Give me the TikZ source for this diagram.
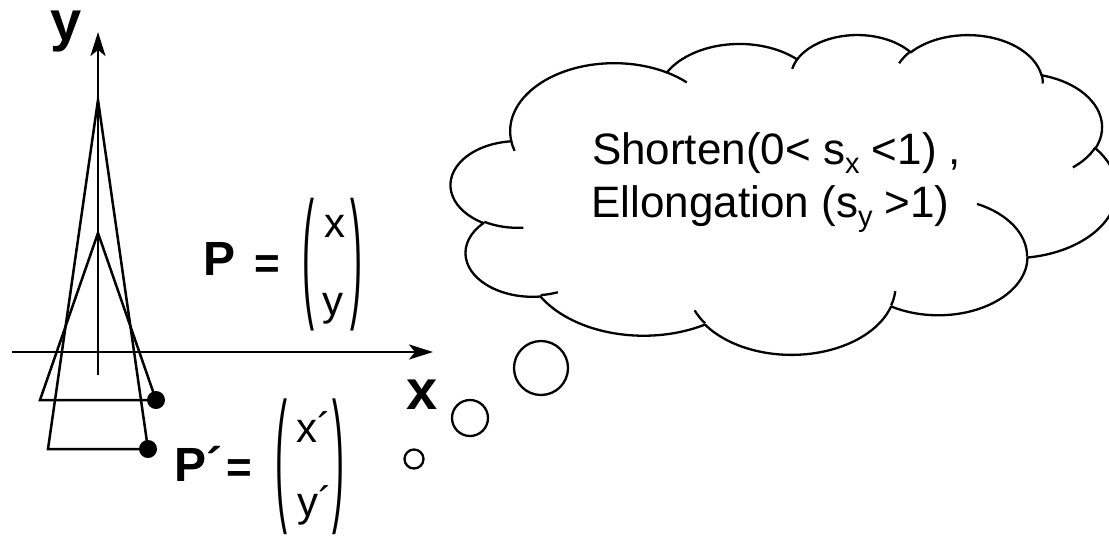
\documentclass[tikz,border=0pt]{standalone}
\usepackage{fontspec}
\setmainfont{Liberation Sans}
\usetikzlibrary{arrows.meta}

% lowered subscript used in the cloud text
\newcommand\lowsub[1]{\raisebox{-9pt}{\fontsize{29}{29}\selectfont #1}}

\tikzset{
  % elliptical arc given by radii and by true (visual) start angle and sweep, in degrees
  ooarc/.code args={#1/#2/#3/#4}{%
    \pgfmathsetmacro\ooS{atan2((#1)*sin(#3),(#2)*cos(#3))}%
    \pgfmathsetmacro\ooE{atan2((#1)*sin((#3)+(#4)),(#2)*cos((#3)+(#4)))}%
    \pgfmathsetmacro\ooD{mod(\ooE-\ooS+720,360)}%
    \edef\ooNext{\noexpand\pgfkeysalso{x radius=#1,y radius=#2,start angle=\ooS,delta angle=\ooD}}%
    \ooNext},
  ink/.style={line width=2.5pt},
  cloudline/.style={line width=2.3pt, line join=round},
  bubble/.style={circle, draw, line width=2.3pt, inner sep=0pt},
  lab/.style={inner sep=0pt, outer sep=0pt},
  axislab/.style={lab, font=\fontsize{56}{56}\selectfont\bfseries},
  pointlab/.style={lab, font=\fontsize{48}{48}\selectfont\bfseries},
  eqsign/.style={lab, font=\fontsize{44}{44}\selectfont\bfseries},
  entry/.style={lab, anchor=base west, font=\fontsize{42}{42}\selectfont},
  paren/.style={lab, font=\fontsize{36}{36}\selectfont},
  cloudtext/.style={lab, anchor=base west, font=\fontsize{44}{44}\selectfont},
  dot/.style={circle, fill, inner sep=0pt, minimum size=18pt},
  axisarrow/.style={ink, -{Stealth[length=24pt, width=15pt, inset=6pt]}}
}

\begin{document}
\begin{tikzpicture}[x=1pt, y=-1pt]
\fill[white] (0,0) rectangle (1109,536);
\useasboundingbox (0,0) rectangle (1109,536);

% ---- axes ----
\coordinate (xs) at (12,352);
\coordinate (xe) at (433,352);
\coordinate (ys) at (98,375);
\coordinate (ye) at (98,32);
\draw[axisarrow] (xs) -- (xe);
\draw[axisarrow] (ys) -- (ye);
\node[axislab] (ylab) at (66,32) {y};
\node[axislab] (xlab) at (422,394.5) {x};

% ---- stretched triangle (P') and original triangle (P) ----
\coordinate (tA) at (98,100);
\coordinate (tL) at (48,449);
\coordinate (tR) at (148,449);
\coordinate (sA) at (98,233);
\coordinate (sL) at (40,400);
\coordinate (sR) at (156,400);
\draw[ink] (tL) -- (tA) -- (tR) -- cycle;
\draw[ink] (sL) -- (sA) -- (sR) -- cycle;
\node[dot] (dotP) at (sR) {};
\node[dot] (dotQ) at (tR) {};

% ---- P = (x, y) ----
\node[pointlab, anchor=base] (pP) at (220,275) {P};
\node[eqsign, anchor=base] (eqP) at (267.5,278) {=};
\node[paren] (lpP) at (308,265) {\scalebox{1}[3.96]{(}};
\node[paren] (rpP) at (356.5,265) {\scalebox{1}[3.96]{)}};
\node[entry] (exP) at (324,237) {x};
\node[entry] (eyP) at (322.5,315) {y};

% ---- P' = (x', y') ----
\node[pointlab, anchor=base west] (pQ) at (174.5,481) {P´};
\node[eqsign, anchor=base] (eqQ) at (239,482) {=};
\node[paren] (lpQ) at (281,467) {\scalebox{1}[4.05]{(}};
\node[paren] (rpQ) at (338,467) {\scalebox{1}[4.05]{)}};
\node[entry] (exQ) at (296,442) {x´};
\node[entry] (eyQ) at (297,516) {y´};

% ---- thought bubbles ----
\node[bubble, minimum size=19pt] (b1) at (414,459) {};
\node[bubble, minimum size=36pt] (b2) at (470,418) {};
\node[bubble, minimum size=54pt] (b3) at (541,368) {};

% ---- cloud outline (43200 x 43200 shape units) ----
\begin{scope}[shift={(451,34)}, x=0.015417pt, y=-0.0074045pt]
\draw[cloudline] (3900,14370)
  arc[ooarc=6753/9190/-190.487483/123.780533]
  arc[ooarc=5333/7267/-144.102383/89.945233]
  arc[ooarc=4365/5945/-145.807917/99.723017]
  arc[ooarc=4857/6595/-130.986067/117.241733]
  arc[ooarc=5333/7273/-78.708883/109.026917]
  arc[ooarc=6775/9220/-46.26725/130.269]
  arc[ooarc=5785/7867/0.625017/114.033333]
  arc[ooarc=6752/9215/22.4516/115.17255]
  arc[ooarc=7720/10543/66.242633/75.711017]
  arc[ooarc=4360/5918/-274.942083/146.735567]
  arc[ooarc=4345/5945/-246.8285/152.51885]
  -- cycle;
% inner hooks where the lobes meet
\draw[cloudline] (4693,26177) arc[ooarc=4345/5945/86.742/26.4295];
\draw[cloudline] (6928,34899) arc[ooarc=4360/5918/73.610467/11.447467];
\draw[cloudline] (16478,39090) arc[ooarc=6752/9215/137.62415/14.0811];
\draw[cloudline] (28827,34751) arc[ooarc=6752/9215/6.453267/15.99835];
\draw[cloudline] (34129,22954) arc[ooarc=5785/7867/-70.29235/70.917367];
\draw[cloudline] (41798,15354) arc[ooarc=5333/7273/30.318033/27.7515];
\draw[cloudline] (38324,5426) arc[ooarc=4857/6595/-13.744333/14.8589];
\draw[cloudline] (29078,3952) arc[ooarc=4857/6595/-149.18145/18.195367];
\draw[cloudline] (22141,4720) arc[ooarc=4365/5945/-163.494267/17.68635];
\draw[cloudline] (14000,5192) arc[ooarc=6753/9190/-66.70695/12.31935];
\draw[cloudline] (4127,15789) arc[ooarc=6753/9190/157.65435/11.858167];
\end{scope}

% ---- cloud text ----
\node[cloudtext] (line1) at (592,164) {Shorten(0< s\lowsub{x} <1) ,};
\node[cloudtext] (line2) at (591.5,217) {Ellongation (s\lowsub{y} >1)};
\end{tikzpicture}
\end{document}
